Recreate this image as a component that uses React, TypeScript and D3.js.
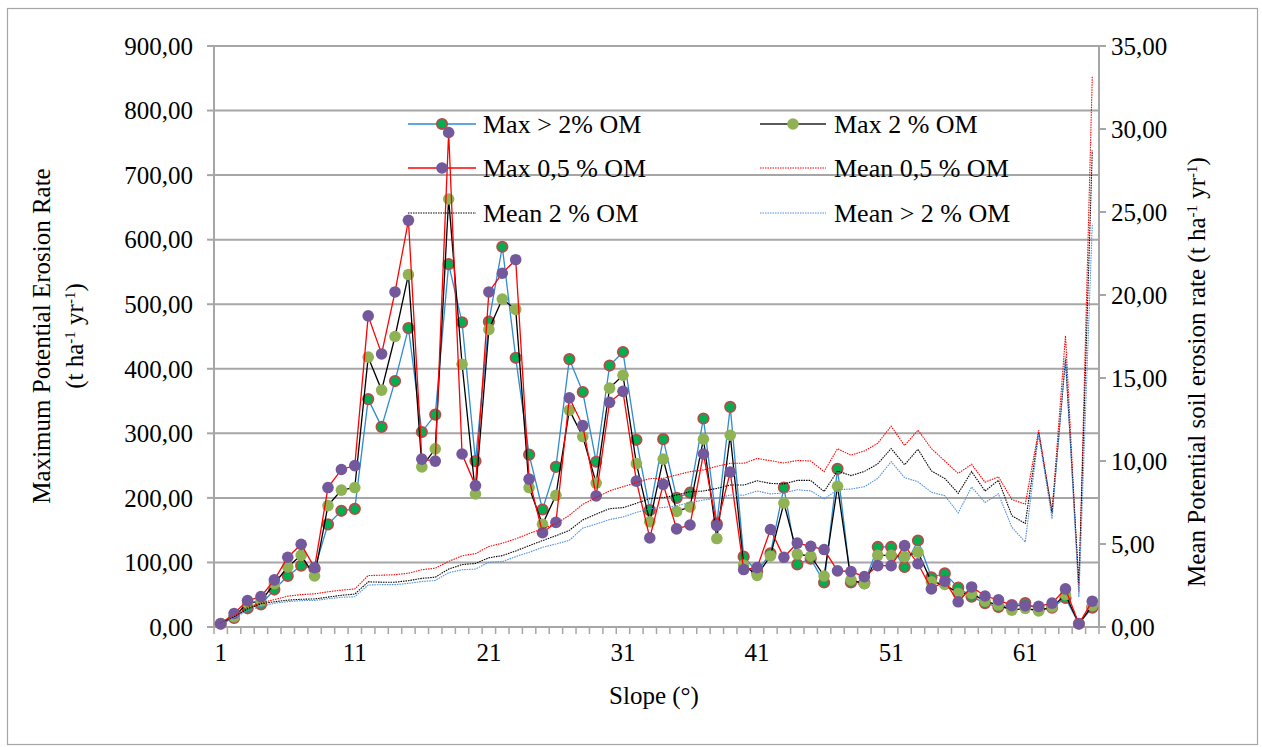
import React from "react";
import * as d3 from "d3";

const slopes: number[] = d3.range(1, 67);

const maxAbove2OM: number[] = [
  5, 14, 29, 35, 58, 79, 95, 90, 159, 180,
  183, 353, 310, 381, 463, 302, 329, 562, 472, 257,
  473, 589, 417, 267, 182, 248, 415, 364, 256, 405,
  426, 290, 181, 291, 200, 208, 323, 160, 341, 109,
  86, 114, 216, 97, 106, 69, 245, 69, 68, 124,
  124, 93, 134, 77, 83, 61, 47, 37, 31, 34,
  37, 27, 30, 45, 5, 30,
];
const max2OM: number[] = [
  5, 16, 37, 40, 67, 93, 111, 79, 188, 212,
  216, 418, 367, 450, 546, 248, 276, 663, 407, 206,
  461, 508, 492, 216, 159, 204, 336, 295, 223, 370,
  390, 253, 163, 260, 179, 186, 291, 137, 297, 96,
  80, 110, 192, 113, 110, 79, 218, 73, 67, 111,
  111, 109, 116, 70, 66, 52, 52, 40, 34, 26,
  29, 25, 31, 50, 5, 33,
];
const max05OM: number[] = [
  5, 21, 41, 47, 73, 108, 128, 92, 216, 244,
  250, 482, 423, 519, 630, 260, 257, 766, 268, 219,
  519, 548, 569, 229, 146, 162, 355, 312, 203, 348,
  365, 226, 138, 221, 152, 158, 268, 157, 240, 89,
  92, 151, 108, 130, 125, 120, 87, 86, 78, 95,
  95, 126, 98, 59, 71, 39, 62, 48, 42, 33,
  33, 32, 37, 59, 5, 40,
];
const mean05OM: number[] = [
  0.22, 0.65, 1.2, 1.45, 1.65, 1.86, 1.95, 2.0, 2.12, 2.22,
  2.29, 3.1, 3.12, 3.15, 3.24, 3.45, 3.54, 3.95, 4.29, 4.42,
  4.85, 5.05, 5.31, 5.63, 5.92, 6.22, 6.73, 7.39, 7.8, 8.2,
  8.45, 8.7, 8.94, 8.96, 9.16, 9.36, 9.46, 9.68, 9.86, 9.86,
  10.15, 10.02, 9.88, 10.03, 10.0, 9.36, 10.74, 10.35, 10.6, 11.07,
  12.1, 10.93, 11.86, 10.75, 10.0, 9.25, 9.8, 8.72, 9.05, 7.68,
  7.4, 11.86, 6.96, 17.55, 2.1, 33.16,
];
const mean2OM: number[] = [
  0.2, 0.6, 1.1, 1.4, 1.52, 1.62, 1.67, 1.69, 1.8, 1.91,
  1.98, 2.72, 2.7, 2.7, 2.79, 2.93, 3.0, 3.49, 3.76, 3.83,
  4.17, 4.3, 4.58, 4.9, 5.2, 5.5, 5.82, 6.45, 6.8, 7.13,
  7.19, 7.45, 7.73, 7.79, 7.95, 8.15, 8.19, 8.35, 8.55, 8.55,
  8.81, 8.65, 8.62, 8.83, 8.83, 8.16, 9.4, 9.12, 9.37, 9.83,
  10.75, 9.77, 10.71, 9.4, 8.95, 8.05, 9.36, 8.19, 8.84, 6.71,
  6.24, 11.7, 6.85, 16.1, 2.6, 28.7,
];
const meanAbove2OM: number[] = [
  0.2, 0.55, 0.97, 1.25, 1.43, 1.53, 1.59, 1.6, 1.7, 1.79,
  1.82, 2.53, 2.55, 2.55, 2.63, 2.74, 2.8, 3.27, 3.45, 3.49,
  3.9, 3.94, 4.24, 4.5, 4.8, 5.0, 5.22, 5.96, 6.2, 6.47,
  6.63, 6.9, 7.13, 7.2, 7.3, 7.5, 7.65, 7.75, 7.95, 7.94,
  8.19, 8.02, 8.07, 8.27, 8.2, 7.71, 8.27, 8.31, 8.45, 8.95,
  9.96, 9.0, 8.75, 8.12, 7.91, 6.87, 8.43, 7.5, 8.02, 6.01,
  5.12, 11.64, 6.51, 16.3, 1.8, 24.3,
];

const leftTicks: number[] = [0, 100, 200, 300, 400, 500, 600, 700, 800, 900];
const rightTicks: number[] = [0, 5, 10, 15, 20, 25, 30, 35];
const xLabelCats: number[] = [1, 11, 21, 31, 41, 51, 61];

const W = 1262;
const H = 747;
const M = { left: 214, right: 1099, top: 46, bottom: 627 };
const FONT = "'Liberation Serif', 'DejaVu Serif', serif";
const GRID = "#a6a6a6";
const FS = 25;
const FS_LEG = 26;

const BLUE = "#2f8bd2";
const RED = "#ff0000";
const BLACK = "#000000";
const GREEN_FILL = "#00b050";
const GREEN_STROKE = "#b94a48";
const OLIVE = "#8fb254";
const PURPLE = "#73589c";
const MEAN_BLUE = "#4d8fe0";

const fmt = (v: number) => d3.format(".2f")(v).replace(".", ",");

export default function App() {
  const x = d3
    .scaleBand<number>()
    .domain(slopes)
    .range([M.left, M.right])
    .padding(0);
  const cx = (c: number) => (x(c) as number) + x.bandwidth() / 2;
  const yL = d3.scaleLinear().domain([0, 900]).range([M.bottom, M.top]);
  const yR = d3.scaleLinear().domain([0, 35]).range([M.bottom, M.top]);

  const lineL = d3
    .line<number>()
    .x((_, i) => cx(slopes[i]))
    .y((d) => yL(d));
  const lineR = d3
    .line<number>()
    .x((_, i) => cx(slopes[i]))
    .y((d) => yR(d));

  const boundaries = slopes.map((s) => x(s) as number).concat([M.right]);

  const maxSeries = [
    { data: maxAbove2OM, color: BLUE, fill: GREEN_FILL, stroke: GREEN_STROKE, r: 5.2 },
    { data: max2OM, color: BLACK, fill: OLIVE, stroke: "none", r: 5.8 },
    { data: max05OM, color: RED, fill: PURPLE, stroke: "none", r: 5.8 },
  ];
  const meanSeries = [
    { data: mean05OM, color: RED },
    { data: mean2OM, color: BLACK },
    { data: meanAbove2OM, color: MEAN_BLUE },
  ];

  const legendItems = [
    { label: "Max > 2% OM", color: BLUE, mfill: GREEN_FILL, mstroke: GREEN_STROKE, dotted: false, col: 0, row: 0 },
    { label: "Max 2 % OM", color: "#222", mfill: OLIVE, mstroke: "none", dotted: false, col: 1, row: 0 },
    { label: "Max 0,5 % OM", color: RED, mfill: PURPLE, mstroke: "none", dotted: false, col: 0, row: 1 },
    { label: "Mean 0,5 % OM", color: RED, mfill: null, mstroke: "none", dotted: true, col: 1, row: 1 },
    { label: "Mean 2 % OM", color: BLACK, mfill: null, mstroke: "none", dotted: true, col: 0, row: 2 },
    { label: "Mean > 2 % OM", color: MEAN_BLUE, mfill: null, mstroke: "none", dotted: true, col: 1, row: 2 },
  ];
  const legCols = [
    { x0: 408, x1: 476, tx: 483 },
    { x0: 760, x1: 826, tx: 834 },
  ];
  const legRows = [124, 168, 213];

  return (
    <svg
      width={W}
      height={H}
      style={{ position: "absolute", left: 0, top: 0, background: "#fff" }}
      fontFamily={FONT}
    >
      <rect x={0} y={0} width={W} height={H} fill="#fff" />
      <rect x={7.5} y={8.5} width={1250} height={736} fill="none" stroke="#a6a6a6" strokeWidth={1.2} />

      {/* gridlines */}
      {leftTicks.map((t) => (
        <line key={"g" + t} x1={M.left} x2={M.right} y1={yL(t)} y2={yL(t)} stroke={GRID} strokeWidth={2} />
      ))}

      {/* axes */}
      <line x1={M.left} x2={M.left} y1={M.top} y2={M.bottom} stroke={GRID} strokeWidth={2} />
      <line x1={M.right} x2={M.right} y1={M.top} y2={M.bottom} stroke={GRID} strokeWidth={2} />
      <line x1={M.left} x2={M.right} y1={M.bottom} y2={M.bottom} stroke={GRID} strokeWidth={2} />
      {leftTicks.map((t) => (
        <g key={"lt" + t}>
          <line x1={M.left - 7} x2={M.left} y1={yL(t)} y2={yL(t)} stroke={GRID} strokeWidth={2} />
          <text x={193} y={yL(t)} dy="0.35em" textAnchor="end" fontSize={FS} fill="#000">
            {fmt(t)}
          </text>
        </g>
      ))}
      {rightTicks.map((t) => (
        <g key={"rt" + t}>
          <line x1={M.right} x2={M.right + 7} y1={yR(t)} y2={yR(t)} stroke={GRID} strokeWidth={2} />
          <text x={1111} y={yR(t)} dy="0.35em" textAnchor="start" fontSize={FS} fill="#000">
            {fmt(t)}
          </text>
        </g>
      ))}
      {boundaries.map((b, i) => (
        <line key={"xt" + i} x1={b} x2={b} y1={M.bottom} y2={M.bottom + 7} stroke={GRID} strokeWidth={1.5} />
      ))}
      {xLabelCats.map((c) => (
        <text key={"xl" + c} x={cx(c)} y={661} textAnchor="middle" fontSize={FS} fill="#000">
          {c}
        </text>
      ))}

      {/* axis titles */}
      <text x={654} y={704} textAnchor="middle" fontSize={FS} fill="#000">
        Slope (°)
      </text>
      <text transform="translate(50,336) rotate(-90)" textAnchor="middle" fontSize={FS} fill="#000">
        Maximum Potential Erosion Rate
      </text>
      <text transform="translate(83,336) rotate(-90)" textAnchor="middle" fontSize={FS} fill="#000">
        (t ha<tspan baseline-shift="super" fontSize={15}>-1</tspan> yr<tspan baseline-shift="super" fontSize={15}>-1</tspan>)
      </text>
      <text transform="translate(1205,372) rotate(-90)" textAnchor="middle" fontSize={FS} fill="#000">
        Mean Potential soil erosion rate (t ha<tspan baseline-shift="super" fontSize={15}>-1</tspan> yr<tspan baseline-shift="super" fontSize={15}>-1</tspan>)
      </text>

      {/* max series */}
      {maxSeries.map((s, k) => (
        <g key={"ms" + k}>
          <path d={lineL(s.data) || ""} fill="none" stroke={s.color} strokeWidth={1.3} />
          {s.data.map((v, i) => (
            <circle
              key={i}
              cx={cx(slopes[i])}
              cy={yL(v)}
              r={s.r}
              fill={s.fill}
              stroke={s.stroke}
              strokeWidth={s.stroke === "none" ? 0 : 1.8}
            />
          ))}
        </g>
      ))}

      {/* mean series */}
      {meanSeries.map((s, k) => (
        <path
          key={"mn" + k}
          d={lineR(s.data) || ""}
          fill="none"
          stroke={s.color}
          strokeWidth={1.1}
          strokeDasharray="1.5 1"
        />
      ))}

      {/* legend */}
      {legendItems.map((it, k) => {
        const c = legCols[it.col];
        const y = legRows[it.row];
        const mx = (c.x0 + c.x1) / 2;
        return (
          <g key={"lg" + k}>
            <line
              x1={c.x0}
              x2={c.x1}
              y1={y}
              y2={y}
              stroke={it.color}
              strokeWidth={it.dotted ? 1.1 : 1.3}
              strokeDasharray={it.dotted ? "1.5 1" : undefined}
            />
            {it.mfill && (
              <circle
                cx={mx}
                cy={y}
                r={it.mstroke === "none" ? 5.8 : 5.2}
                fill={it.mfill}
                stroke={it.mstroke}
                strokeWidth={it.mstroke === "none" ? 0 : 1.8}
              />
            )}
            <text x={c.tx} y={y} dy="0.33em" fontSize={FS_LEG} fill="#000">
              {it.label}
            </text>
          </g>
        );
      })}
    </svg>
  );
}
